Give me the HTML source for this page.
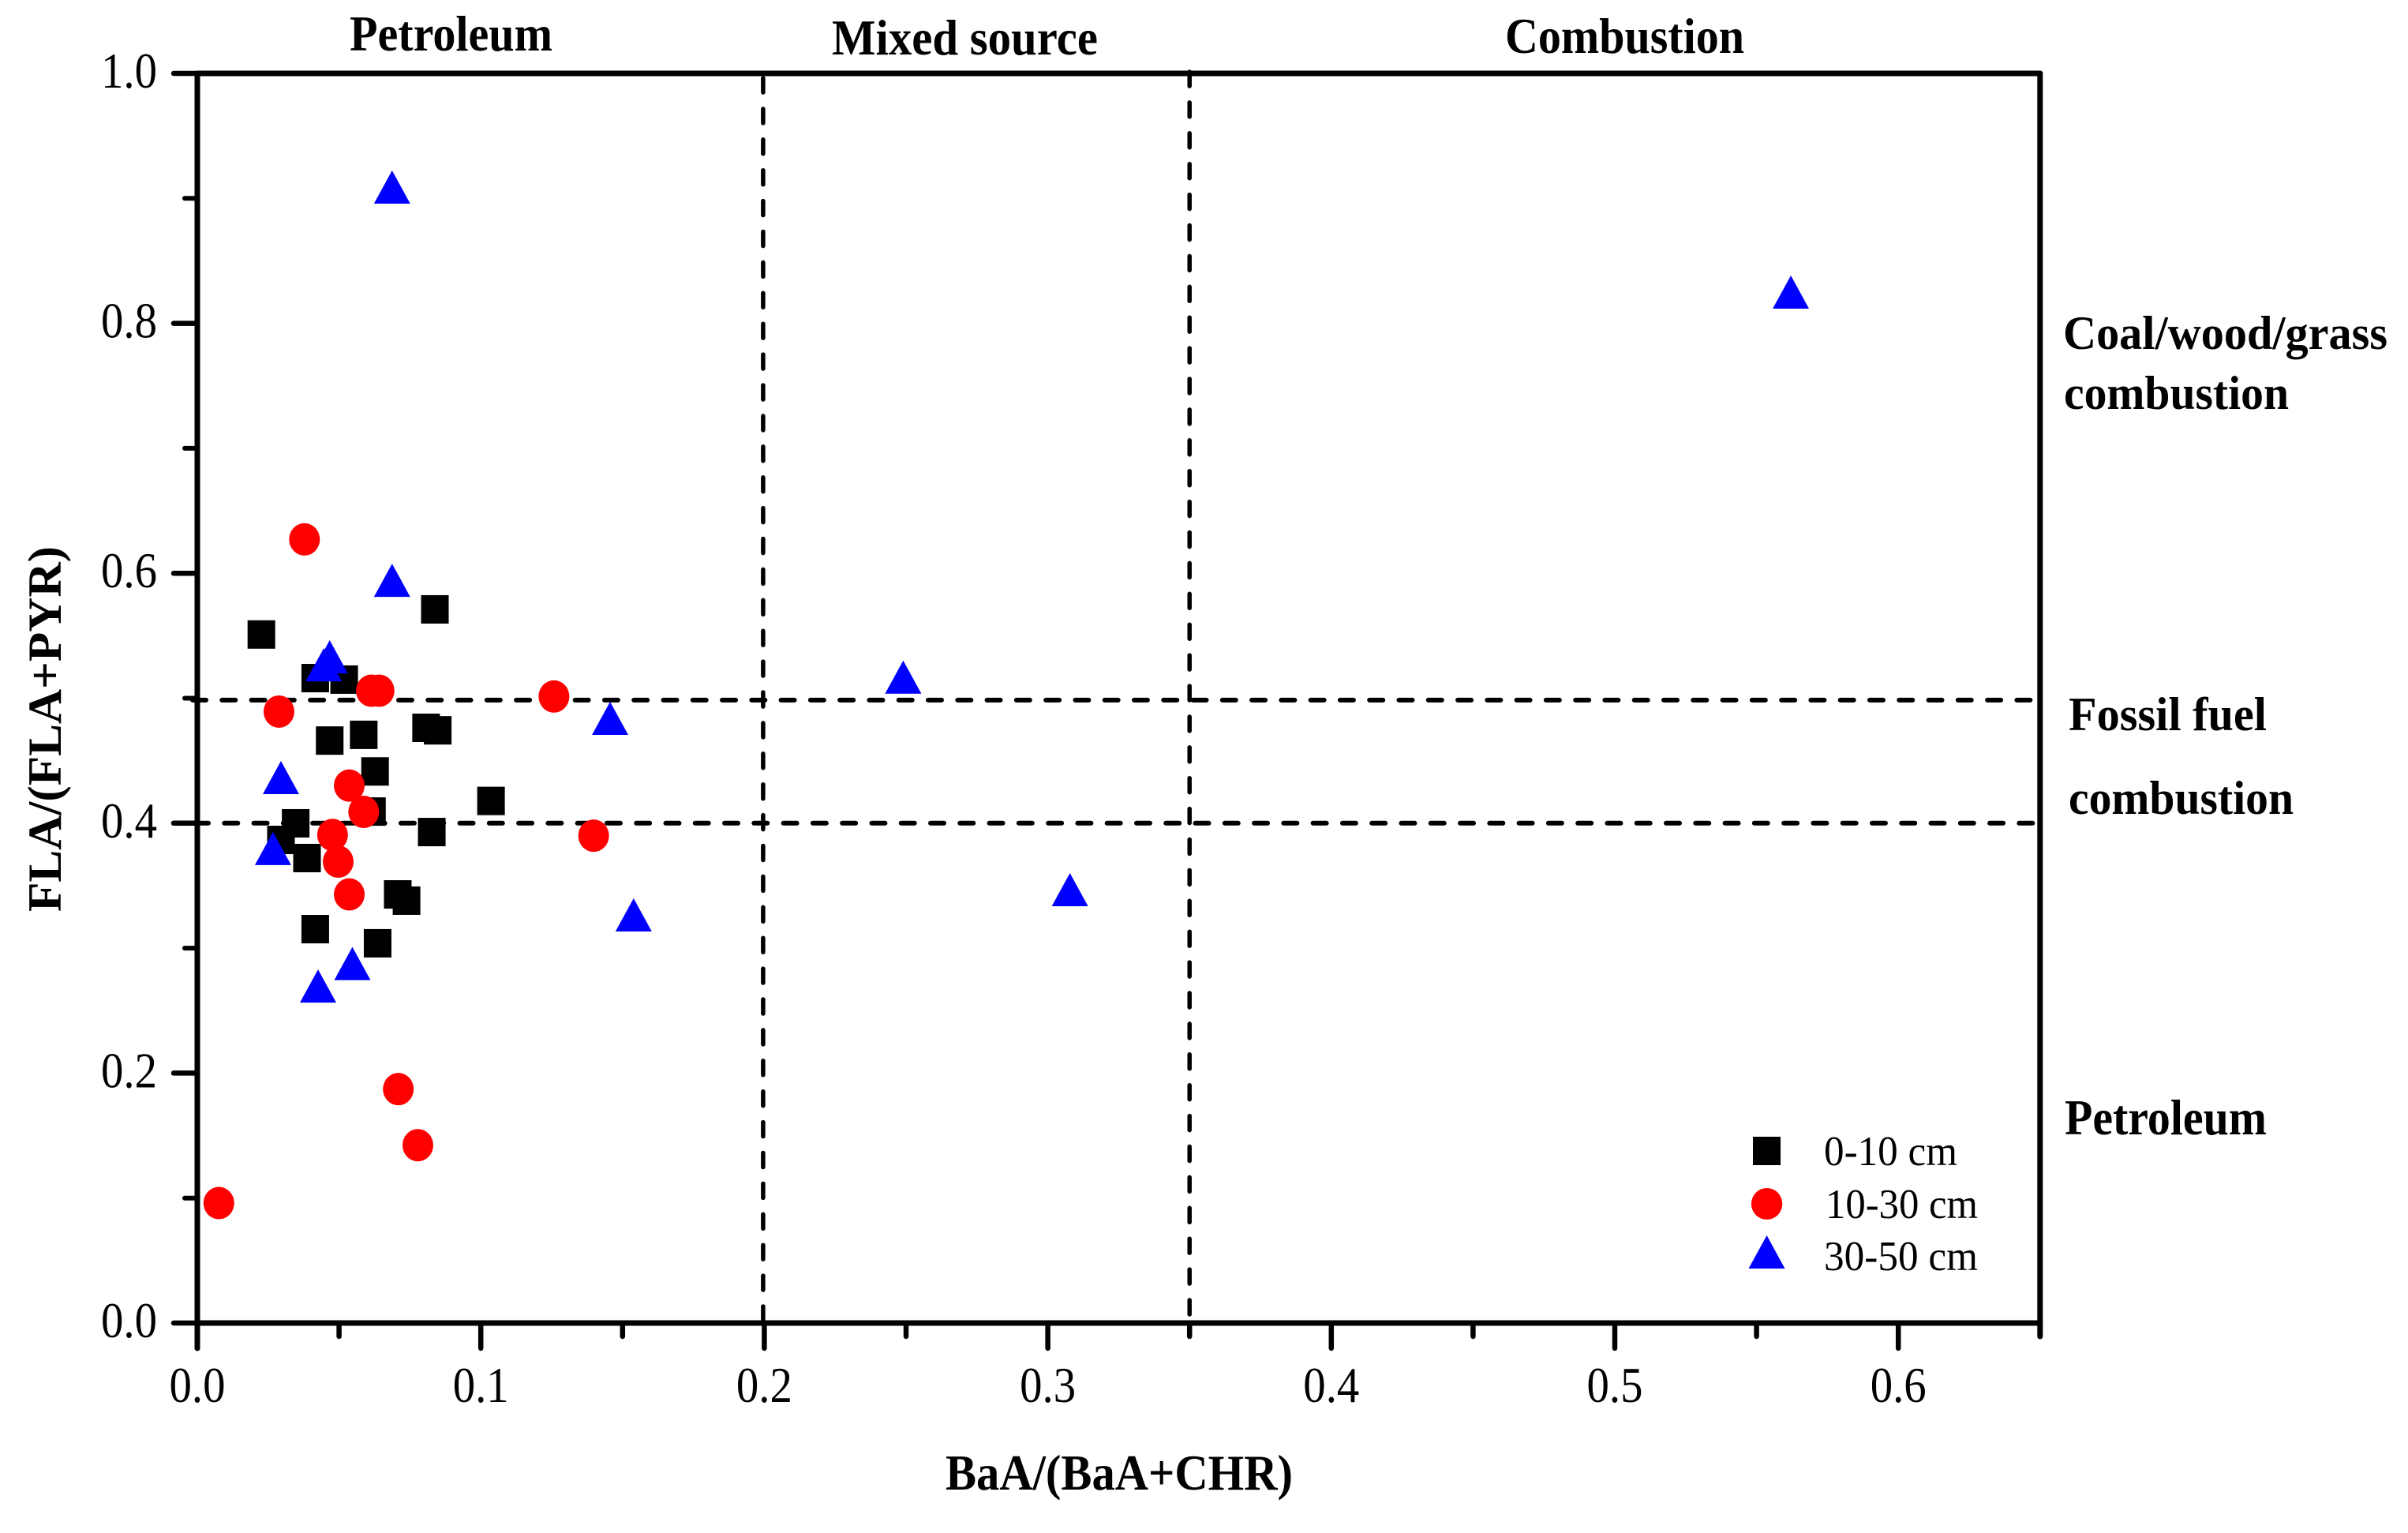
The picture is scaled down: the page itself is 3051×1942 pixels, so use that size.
<!DOCTYPE html>
<html lang="en">
<head>
<meta charset="utf-8">
<title>FLA/(FLA+PYR) vs BaA/(BaA+CHR)</title>
<style>
  html, body { margin: 0; padding: 0; background: #fff; }
  svg { display: block; }
  text { font-family: "Liberation Serif", "Times New Roman", serif; fill: #000; }
  .bold { font-weight: bold; }
</style>
</head>
<body>
<svg id="chart" xmlns="http://www.w3.org/2000/svg" width="3051" height="1942" viewBox="0 0 3051 1942">
  <rect x="0" y="0" width="3051" height="1942" fill="#fff"/>
  <g id="ticks"></g>
  <g id="frame"></g>
  <g id="refs"></g>
  <g id="marks"></g>
  <g id="tick-labels"></g>

  <text class="bold" x="443" y="64" font-size="63" textLength="257" lengthAdjust="spacingAndGlyphs">Petroleum</text>
  <text class="bold" x="1054" y="69" font-size="63" textLength="337" lengthAdjust="spacingAndGlyphs">Mixed source</text>
  <text class="bold" x="1907" y="67" font-size="63" textLength="303" lengthAdjust="spacingAndGlyphs">Combustion</text>

  <text class="bold" x="2614" y="442" font-size="60" textLength="411" lengthAdjust="spacingAndGlyphs">Coal/wood/grass</text>
  <text class="bold" x="2615" y="518" font-size="60" textLength="285" lengthAdjust="spacingAndGlyphs">combustion</text>
  <text class="bold" x="2621" y="925" font-size="60" textLength="251" lengthAdjust="spacingAndGlyphs">Fossil fuel</text>
  <text class="bold" x="2621" y="1031" font-size="60" textLength="285" lengthAdjust="spacingAndGlyphs">combustion</text>
  <text class="bold" x="2616" y="1437" font-size="63" textLength="256" lengthAdjust="spacingAndGlyphs">Petroleum</text>

  <text class="bold" x="1198" y="1887" font-size="63" textLength="440" lengthAdjust="spacingAndGlyphs">BaA/(BaA+CHR)</text>
  <text class="bold" transform="translate(77 1155) rotate(-90)" x="0" y="0" font-size="60" textLength="463" lengthAdjust="spacingAndGlyphs">FLA/(FLA+PYR)</text>

  <g id="legend">
    <g>
      <rect x="2221" y="1440" width="35" height="36" fill="#000"/>
      <text x="2311" y="1476" font-size="53" textLength="169" lengthAdjust="spacingAndGlyphs">0-10 cm</text>
    </g>
    <g>
      <ellipse cx="2238.6" cy="1525" rx="19.7" ry="20" fill="#f00"/>
      <text x="2313" y="1543" font-size="53" textLength="193" lengthAdjust="spacingAndGlyphs">10-30 cm</text>
    </g>
    <g>
      <polygon points="2238.6,1565 2261.5,1607 2215.5,1607" fill="#00f"/>
      <text x="2311" y="1609" font-size="53" textLength="195" lengthAdjust="spacingAndGlyphs">30-50 cm</text>
    </g>
  </g>
</svg>

<script>
// ---- chart data ----
const xMajorTicks = [0, 0.1, 0.2, 0.3, 0.4, 0.5, 0.6];
const xMinorTicks = [0.05, 0.15, 0.25, 0.35, 0.45, 0.55, 0.65];
const yMajorTicks = [0, 0.2, 0.4, 0.6, 0.8, 1.0];
const yMinorTicks = [0.1, 0.3, 0.5, 0.7, 0.9];
const xTickLabels = ['0.0', '0.1', '0.2', '0.3', '0.4', '0.5', '0.6'];
const yTickLabels = ['0.0', '0.2', '0.4', '0.6', '0.8', '1.0'];
const xReferenceValues = [0.2, 0.35];
const yReferenceValues = [0.4985, 0.4];

const depth0to10X = [0.0838, 0.0226, 0.0416, 0.0518, 0.0467, 0.0587, 0.0807, 0.0848, 0.0627, 0.0616, 0.1036, 0.0347, 0.0295, 0.0827, 0.0387, 0.0707, 0.0738, 0.0416, 0.0636];
const depth0to10Y = [0.5711, 0.5510, 0.5161, 0.5149, 0.4661, 0.4707, 0.4763, 0.4743, 0.4414, 0.4093, 0.4178, 0.3999, 0.3866, 0.3929, 0.3721, 0.3430, 0.3380, 0.3152, 0.3039];

const depth10to30X = [0.0378, 0.0614, 0.0641, 0.0288, 0.1258, 0.0536, 0.0587, 0.0477, 0.1398, 0.0497, 0.0536, 0.0709, 0.0778, 0.0076];
const depth10to30Y = [0.6271, 0.5060, 0.5060, 0.4893, 0.5014, 0.4301, 0.4090, 0.3906, 0.3900, 0.3692, 0.3430, 0.1872, 0.1423, 0.0960];

const depth30to50X = [0.0687, 0.5621, 0.0687, 0.0467, 0.0446, 0.2490, 0.1456, 0.0295, 0.0267, 0.1539, 0.3078, 0.0547, 0.0426];
const depth30to50Y = [0.9090, 0.8250, 0.5944, 0.5332, 0.5268, 0.5169, 0.4839, 0.4365, 0.3797, 0.3266, 0.3468, 0.2877, 0.2697];

// ---- axis functions ----
function xScale(v) { return 250 + v * 3592; }
function yScale(v) { return 1676 - v * 1583; }

const NS = 'http://www.w3.org/2000/svg';
const ticksG = document.getElementById('ticks');
const frameG = document.getElementById('frame');
const refsG = document.getElementById('refs');
const marksG = document.getElementById('marks');
const labelsG = document.getElementById('tick-labels');

function makeLine(x1, y1, x2, y2, width, cap) {
  const el = document.createElementNS(NS, 'line');
  el.setAttribute('x1', x1);
  el.setAttribute('y1', y1);
  el.setAttribute('x2', x2);
  el.setAttribute('y2', y2);
  el.setAttribute('stroke', '#000');
  el.setAttribute('stroke-width', width);
  el.setAttribute('stroke-linecap', cap);
  return el;
}

// ticks
xMajorTicks.forEach(function (v) {
  const el = makeLine(xScale(v), 1676, xScale(v), 1708, 6.5, 'round');
  
  
  ticksG.appendChild(el);
});
xMinorTicks.forEach(function (v) {
  const el = makeLine(xScale(v), 1676, xScale(v), 1693, 6.5, 'round');
  
  
  ticksG.appendChild(el);
});
yMajorTicks.forEach(function (v) {
  const el = makeLine(250, yScale(v), 220, yScale(v), 6.5, 'round');
  
  
  ticksG.appendChild(el);
});
yMinorTicks.forEach(function (v) {
  const el = makeLine(250, yScale(v), 234, yScale(v), 6, 'round');
  
  
  ticksG.appendChild(el);
});

// frame
const leftAxis = makeLine(xScale(0), yScale(1), xScale(0), 1708, 7, 'round');


frameG.appendChild(leftAxis);

const rightAxis = makeLine(xScale(0.65), yScale(1), xScale(0.65), 1693, 7, 'round');


frameG.appendChild(rightAxis);

const topAxis = makeLine(xScale(0), yScale(1), xScale(0.65), yScale(1), 7, 'round');


frameG.appendChild(topAxis);

const bottomAxis = makeLine(xScale(0), yScale(0), xScale(0.65), yScale(0), 7, 'round');


frameG.appendChild(bottomAxis);

// dashed reference lines
const vStarts = [99, 91];
xReferenceValues.forEach(function (v, i) {
  const el = makeLine(xScale(v) - 1.5 * (i === 0 ? 1 : 0), vStarts[i], xScale(v) - 1.5 * (i === 0 ? 1 : 0), 1680, 5.5, 'round');
  el.setAttribute('stroke-dasharray', '18 20.9');
  
  
  refsG.appendChild(el);
});
const hStarts = [244, 247];
yReferenceValues.forEach(function (v, i) {
  const el = makeLine(hStarts[i], yScale(v), 2580, yScale(v), 6, 'round');
  el.setAttribute('stroke-dasharray', '17 20.28');
  
  
  refsG.appendChild(el);
});

// data marks
depth0to10X.forEach(function (v, i) {
  const el = document.createElementNS(NS, 'rect');
  el.setAttribute('x', xScale(v) - 17.5);
  el.setAttribute('y', yScale(depth0to10Y[i]) - 18);
  el.setAttribute('width', 35);
  el.setAttribute('height', 36);
  el.setAttribute('fill', '#000');
  
  
  marksG.appendChild(el);
});
depth10to30X.forEach(function (v, i) {
  const el = document.createElementNS(NS, 'ellipse');
  el.setAttribute('cx', xScale(v));
  el.setAttribute('cy', yScale(depth10to30Y[i]));
  el.setAttribute('rx', 19.5);
  el.setAttribute('ry', 20.5);
  el.setAttribute('fill', '#f00');
  
  
  marksG.appendChild(el);
});
depth30to50X.forEach(function (v, i) {
  const cx = xScale(v);
  const cy = yScale(depth30to50Y[i]);
  const el = document.createElementNS(NS, 'polygon');
  el.setAttribute('points', cx + ',' + (cy - 21) + ' ' + (cx + 23) + ',' + (cy + 21) + ' ' + (cx - 23) + ',' + (cy + 21));
  el.setAttribute('fill', '#00f');
  
  
  marksG.appendChild(el);
});

// tick labels
xMajorTicks.forEach(function (v, i) {
  const el = document.createElementNS(NS, 'text');
  el.setAttribute('x', xScale(v));
  el.setAttribute('y', 1776);
  el.setAttribute('font-size', 63);
  el.setAttribute('text-anchor', 'middle');
  el.setAttribute('textLength', 71);
  el.setAttribute('lengthAdjust', 'spacingAndGlyphs');
  el.textContent = xTickLabels[i];
  
  
  labelsG.appendChild(el);
});
yMajorTicks.forEach(function (v, i) {
  const el = document.createElementNS(NS, 'text');
  el.setAttribute('x', 199);
  el.setAttribute('y', yScale(v) + 18);
  el.setAttribute('font-size', 63);
  el.setAttribute('text-anchor', 'end');
  el.setAttribute('textLength', 71);
  el.setAttribute('lengthAdjust', 'spacingAndGlyphs');
  el.textContent = yTickLabels[i];
  
  
  labelsG.appendChild(el);
});
</script>
</body>
</html>
